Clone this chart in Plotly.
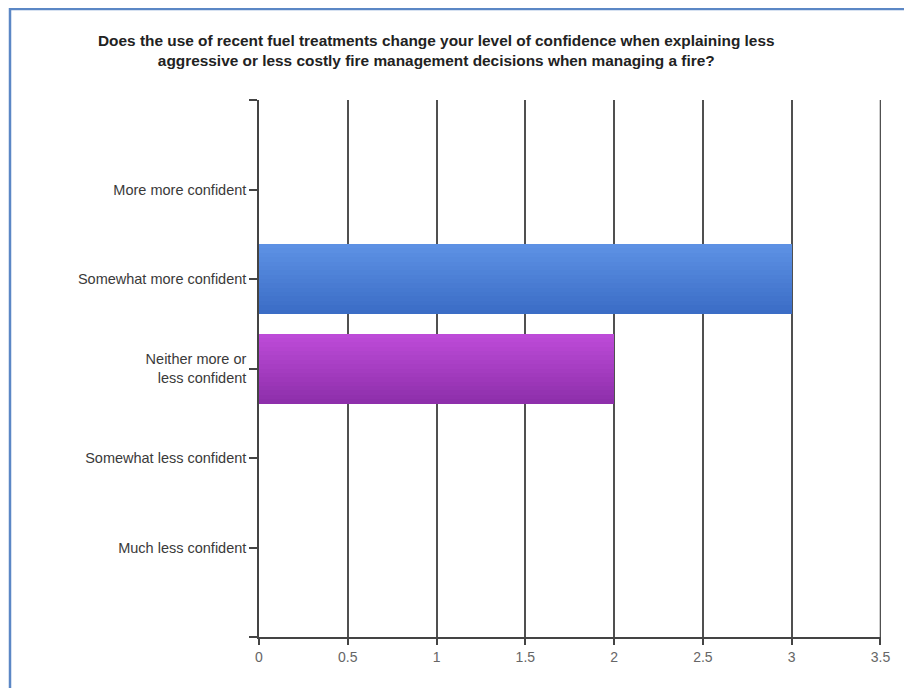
import plotly.graph_objects as go

categories = ["More more confident", "Somewhat more confident", "Neither more or<br>less confident",
              "Somewhat less confident", "Much less confident"]
values = [0, 3, 2, 0, 0]
x_ticks = [0, 0.5, 1, 1.5, 2, 2.5, 3, 3.5]
x_tick_labels = ["0", "0.5", "1", "1.5", "2", "2.5", "3", "3.5"]
title_text = ("Does the use of recent fuel treatments change your level of confidence when explaining less<br>"
              "aggressive or less costly fire management decisions when managing a fire?")

# per-category gradient colours (top, bottom)
top_colors = ["#5b8fe3", "#5d91e4", "#bd4bd8", "#5b8fe3", "#5b8fe3"]
bot_colors = ["#3b6dc6", "#3b6dc6", "#8e2fab", "#3b6dc6", "#3b6dc6"]

def hex2rgb(h):
    h = h.lstrip("#")
    return tuple(int(h[i:i + 2], 16) for i in (0, 2, 4))

def mix(a, b, t):
    ra, rb = hex2rgb(a), hex2rgb(b)
    return "rgb(%d,%d,%d)" % tuple(round(ra[i] + (rb[i] - ra[i]) * t) for i in range(3))

positions = list(range(len(categories)))
bar_w = 0.78
n_slices = 16
sw = bar_w / n_slices

fig = go.Figure()
for s in range(n_slices):
    t = s / (n_slices - 1)
    fig.add_trace(go.Bar(
        x=values, y=positions, orientation="h",
        width=sw * 1.05, offset=-bar_w / 2 + s * sw,
        marker=dict(color=[mix(top_colors[i], bot_colors[i], t) for i in range(len(values))],
                    line=dict(width=0)),
        showlegend=False, hoverinfo="skip",
    ))

# page offset of the figure (browser body margin)
OFF = 8
L, R, T, B = 259 - OFF, 31, 100 - OFF, 51
W, H = 912 - OFF, 688 - OFF
PW, PH = W - L - R, H - T - B

font = "Arial, Liberation Sans, sans-serif"
fig.update_layout(
    width=W, height=H,
    paper_bgcolor="white", plot_bgcolor="white",
    margin=dict(l=L, r=R, t=T, b=B),
    barmode="overlay", bargap=0,
    showlegend=False,
    font=dict(family=font, size=13, color="#333"),
    xaxis=dict(
        range=[0, 3.503], tickvals=x_ticks, ticktext=x_tick_labels,
        showgrid=True, gridcolor="#505050", gridwidth=1.5,
        zeroline=False, showline=True, linecolor="#444", linewidth=1.5,
        ticks="outside", ticklen=6, tickcolor="#444", tickwidth=1.5,
        tickfont=dict(size=14, color="#666"),
        fixedrange=True,
    ),
    yaxis=dict(
        range=[5, -1], tickvals=[-1] + positions + [5],
        ticktext=[""] + categories + [""],
        showgrid=False, zeroline=False, showline=True, linecolor="#444", linewidth=1.5,
        ticks="outside", ticklen=8, tickcolor="#444", tickwidth=1.5,
        tickfont=dict(size=14.5, color="#3a3a3a"),
        fixedrange=True,
    ),
    shapes=[
        dict(type="rect", xref="paper", yref="paper",
             x0=(10 - 259) / PW, x1=1.2, y0=-0.3, y1=1 + 91 / PH,
             line=dict(color="#5b87c5", width=2.5), fillcolor="rgba(0,0,0,0)", layer="below"),
        dict(type="line", xref="x", yref="paper", x0=x_ticks[-1], x1=x_ticks[-1], y0=0, y1=1,
             line=dict(color="#505050", width=1.5), layer="below"),
    ],
    annotations=[dict(text="<b>" + title_text + "</b>", xref="paper", yref="paper",
                      x=(436 - 259) / PW, y=1 + (100 - 51) / PH, xanchor="center", yanchor="middle",
                      showarrow=False, font=dict(size=15.4, color="#222", family=font), align="center")],
)
fig.write_html("out.html")
